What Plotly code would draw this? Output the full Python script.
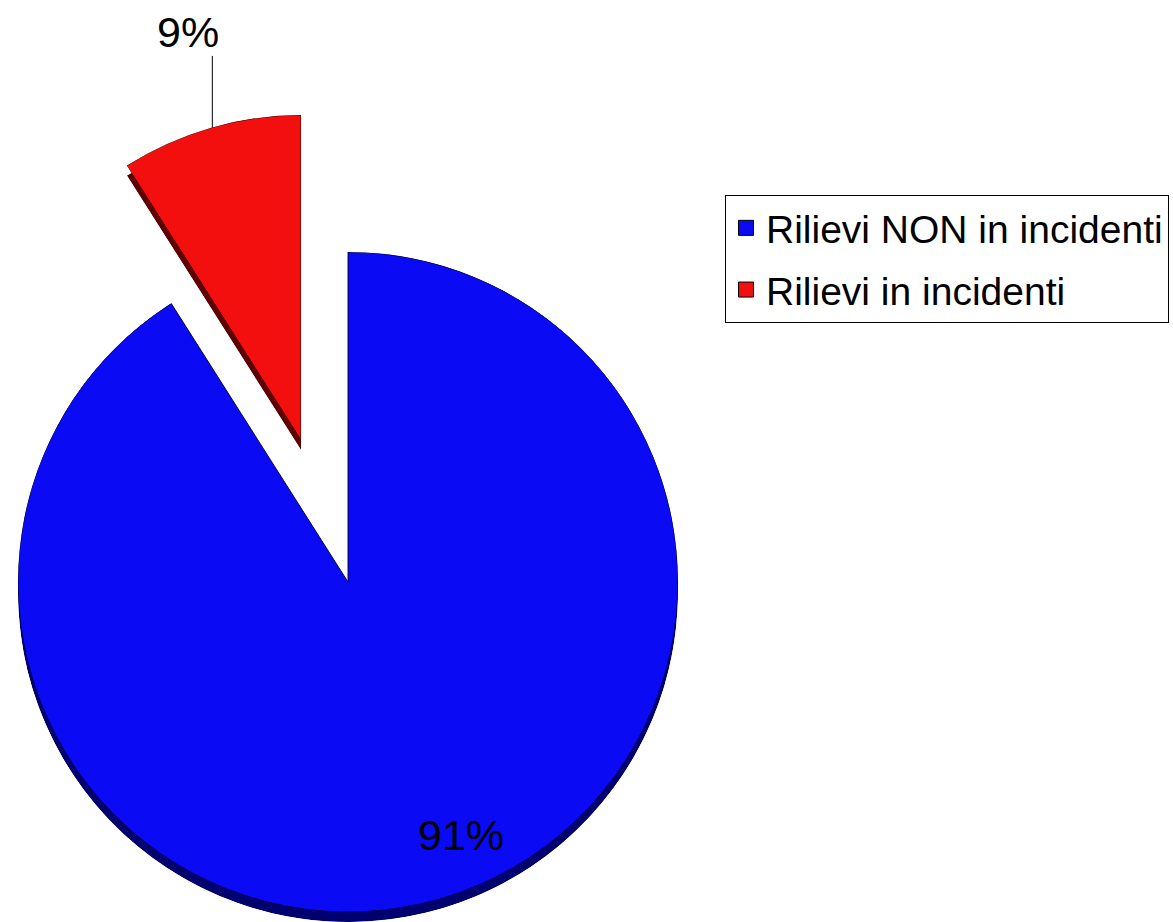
import math
import plotly.graph_objects as go

# ---- data ----
labels = ["Rilievi NON in incidenti", "Rilievi in incidenti"]
values = [91, 9]
face_colors = ["#0a0af4", "#f40f0f"]
side_colors = ["#00006e", "#5e0000"]

W, H = 1173, 922
total = sum(values)
spans = [v / total * 360 for v in values]
pcts = [f"{round(v / total * 100)}%" for v in values]

# geometry (pixels)
blue_c = (348, 582)
blue_R = 330
blue_depth = 10
red_apex = (301, 440)
red_R = 325
red_depth = 10
inset = 8  # hide side face along blue's back radial edge


def px_dom(x0, x1, y0, y1):
    return dict(x=[x0 / W, x1 / W], y=[1 - y1 / H, 1 - y0 / H])


def polar_cfg(dom, sector=None):
    cfg = dict(
        domain=dom,
        bgcolor="rgba(0,0,0,0)",
        radialaxis=dict(visible=False, range=[0, 1]),
        angularaxis=dict(visible=False, rotation=90, direction="clockwise"),
        hole=0,
    )
    if sector is not None:
        cfg["sector"] = sector
    return cfg


fig = go.Figure()

# legend entries
for lab, col, grp in zip(labels, face_colors, ["a", "b"]):
    fig.add_trace(go.Scatter(
        x=[None], y=[None], mode="markers", name=lab, legendgroup=grp,
        marker=dict(symbol="square", size=15, color=col, line=dict(color="black", width=1)),
        hoverinfo="skip",
    ))

# blue face (polar2)
fig.add_trace(go.Barpolar(
    r=[1], theta=[spans[0] / 2], width=[spans[0]], base=0,
    marker=dict(color=face_colors[0], line=dict(color="rgba(0,0,40,0.9)", width=1)),
    showlegend=False, subplot="polar2", hoverinfo="skip",
))
# red face (polar4)
fig.add_trace(go.Barpolar(
    r=[1], theta=[spans[0] + spans[1] / 2], width=[spans[1]], base=0,
    marker=dict(color=face_colors[1], line=dict(color="rgba(40,0,0,0.9)", width=1)),
    showlegend=False, subplot="polar4", hoverinfo="skip",
))
# blue side (polar)
fig.add_trace(go.Barpolar(
    r=[1], theta=[(spans[0] - inset) / 2], width=[spans[0] - inset], base=0,
    marker=dict(color=side_colors[0], line=dict(width=0)),
    showlegend=False, subplot="polar", hoverinfo="skip",
))
# red side (polar3)
fig.add_trace(go.Barpolar(
    r=[1], theta=[spans[0] + spans[1] / 2], width=[spans[1]], base=0,
    marker=dict(color=side_colors[1], line=dict(width=0)),
    showlegend=False, subplot="polar3", hoverinfo="skip",
))

bx, by = blue_c
blue_dom = px_dom(bx - blue_R, bx + blue_R, by - blue_R, by + blue_R)
blue_side_dom = px_dom(bx - blue_R, bx + blue_R, by - blue_R + blue_depth, by + blue_R + blue_depth)

ax_, ay_ = red_apex
rw = red_R * math.sin(math.radians(spans[1]))
red_dom = px_dom(ax_ - rw, ax_, ay_ - red_R, ay_)
red_side_dom = px_dom(ax_ - rw, ax_, ay_ - red_R + red_depth, ay_ + red_depth)
red_sector = [90, 90 + spans[1]]

# label positions
mid_red = math.radians(spans[1] / 2)
tip = (ax_ - red_R * math.sin(mid_red) + 2, ay_ - red_R * math.cos(mid_red))
lab_ang = math.radians(156)
lab91 = (bx + 0.84 * blue_R * math.sin(lab_ang), by - 0.84 * blue_R * math.cos(lab_ang))

fig.update_layout(
    width=W, height=H,
    margin=dict(l=0, r=0, t=0, b=0, autoexpand=False),
    paper_bgcolor="white",
    plot_bgcolor="rgba(0,0,0,0)",
    xaxis=dict(visible=False),
    yaxis=dict(visible=False),
    polar=polar_cfg(blue_side_dom),
    polar2=polar_cfg(blue_dom),
    polar3=polar_cfg(red_side_dom, red_sector),
    polar4=polar_cfg(red_dom, red_sector),
    font=dict(family="Liberation Sans, Arial, sans-serif", color="black"),
    legend=dict(
        x=725 / W, y=1 - 195 / H, xanchor="left", yanchor="top",
        font=dict(size=39, color="black"),
        bordercolor="black", borderwidth=1, bgcolor="white",
        tracegroupgap=8, itemclick=False, itemdoubleclick=False,
    ),
    shapes=[
        dict(type="line", xref="paper", yref="paper",
             x0=tip[0] / W, x1=tip[0] / W, y0=1 - tip[1] / H, y1=1 - (tip[1] - 72) / H,
             line=dict(color="black", width=1)),
    ],
    annotations=[
        dict(
            text=pcts[0], x=lab91[0] / W, y=1 - lab91[1] / H, xref="paper", yref="paper",
            xanchor="center", yanchor="middle",
            showarrow=False, font=dict(size=43, color="black"),
        ),
        dict(
            text=pcts[1], x=188 / W, y=1 - 32 / H, xref="paper", yref="paper",
            xanchor="center", yanchor="middle",
            showarrow=False, font=dict(size=43, color="black"),
        ),
    ],
)

fig.write_html("out.html", config={"displayModeBar": False},
               post_script="document.body.style.margin='0';")
